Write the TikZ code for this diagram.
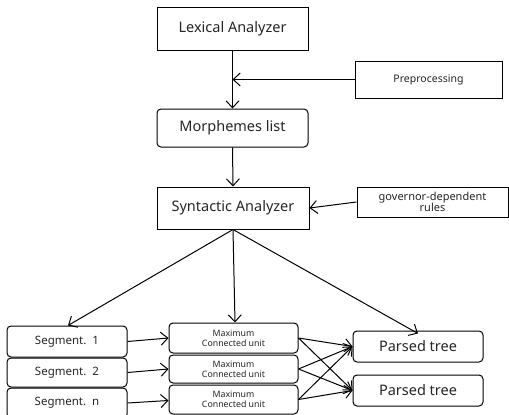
\documentclass[tikz,border=0pt]{standalone}
\usepackage{fontspec}
\setmainfont{Noto Sans}
\usetikzlibrary{arrows.meta}
\begin{document}
\begin{tikzpicture}[x=1pt,y=-1pt,
  box/.style={draw,line width=1pt,inner sep=0pt,align=center,text=black!85},
  rbox/.style={box,rounded corners=4pt},
  arr/.style={line width=1pt,-{Straight Barb[length=7pt,width=13pt,line width=1pt]}}]
\useasboundingbox (0,0) rectangle (509,415);
\node[box,minimum width=151pt,minimum height=43pt,font=\fontsize{14.5}{16}\selectfont] (lex) at (232.5,28.5) {Lexical Analyzer};
\node[box,minimum width=147pt,minimum height=37pt,font=\fontsize{10.5}{12}\selectfont] (pre) at (428.5,79.5) {Preprocessing};
\node[rbox,minimum width=151pt,minimum height=38pt,font=\fontsize{14.5}{16}\selectfont] (mor) at (232.5,128) {Morphemes list};
\node[box,minimum width=152pt,minimum height=42pt,font=\fontsize{14.5}{16}\selectfont] (syn) at (233,208) {Syntactic Analyzer};
\node[box,minimum width=151pt,minimum height=30pt,font=\fontsize{11}{11.5}\selectfont] (gov) at (432.5,202) {governor-dependent\\rules};
\node[rbox,minimum width=120pt,minimum height=31pt,font=\fontsize{11.5}{13}\selectfont] (s1) at (67,341.5) {Segment.\ \ 1};
\node[rbox,minimum width=120pt,minimum height=29pt,font=\fontsize{11.5}{13}\selectfont] (s2) at (67,372.5) {Segment.\ \ 2};
\node[rbox,minimum width=120pt,minimum height=30pt,font=\fontsize{11.5}{13}\selectfont] (sn) at (67,403) {Segment.\ \ n};
\node[rbox,minimum width=129pt,minimum height=30pt,font=\fontsize{8.8}{10}\selectfont] (m1) at (233.5,338) {Maximum\\Connected unit};
\node[rbox,minimum width=129pt,minimum height=28pt,font=\fontsize{8.8}{10}\selectfont] (m2) at (233.5,369) {Maximum\\Connected unit};
\node[rbox,minimum width=129pt,minimum height=29pt,font=\fontsize{8.8}{10}\selectfont] (m3) at (233.5,399.5) {Maximum\\Connected unit};
\node[rbox,minimum width=130pt,minimum height=31pt,font=\fontsize{14.5}{16}\selectfont] (p1) at (418,346.5) {Parsed tree};
\node[rbox,minimum width=130pt,minimum height=31pt,font=\fontsize{14.5}{16}\selectfont] (p2) at (418,390.5) {Parsed tree};
\coordinate (j) at (lex.south |- pre.west);
\draw[arr] (lex.south) -- (mor.north);
\draw[arr] (pre.west) -- (j);
\draw[arr] (mor.south) -- (syn.north);
\draw[arr] (gov.west) -- (syn.east);
\draw[arr] (syn.south) -- ([xshift=1pt]s1.north);
\draw[arr] (syn.south) -- ([xshift=1.5pt]m1.north);
\draw[arr] (syn.south) -- ([yshift=-3pt]p1.north);
\draw[arr] (s1.east) -- (m1.west);
\draw[arr] (s2.east) -- (m2.west);
\draw[arr] (sn.east) -- ([yshift=-1pt]m3.west);
\foreach \m in {m1,m2,m3}{
  \draw[arr] (\m.east) -- (p1.west);
  \draw[arr] (\m.east) -- (p2.west);
}
\end{tikzpicture}
\end{document}
